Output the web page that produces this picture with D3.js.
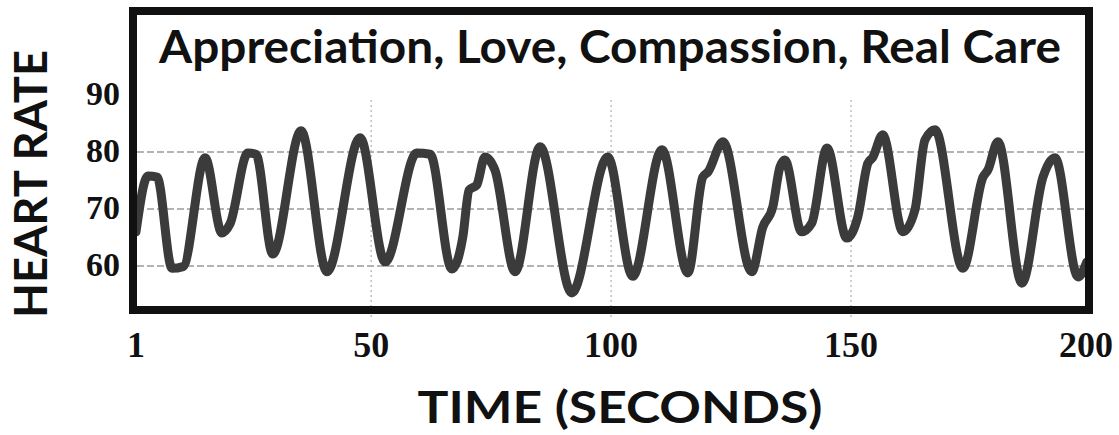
<!DOCTYPE html>
<html>
<head>
<meta charset="utf-8">
<script src="https://cdn.jsdelivr.net/npm/d3@7"></script>
<style>
  html, body { margin: 0; padding: 0; background: #fff; }
  svg { display: block; }
</style>
</head>
<body>
<svg id="chart" width="1119" height="435"></svg>
<script>
// key points of the trace (seconds, beats per minute)
const seconds = [1, 3.5, 5.4, 8.5, 10.8, 15.4, 18.9, 20.6, 24.3, 26, 29.5, 35.4, 40.8, 47.7,
  52.9, 59.5, 62.3, 66.8, 69.1, 70.4, 72, 73.7, 75.8, 80, 85.2, 91.8, 99.3, 104.5, 110.6,
  116, 119.1, 120.2, 123.3, 129.3, 131.6, 133.7, 135.2, 136.2, 139.7, 141.8, 145, 149.1,
  151.4, 153.5, 154.5, 156.6, 160.8, 163.3, 165.4, 167.5, 173.3, 177.5, 178.5, 180.6,
  185.6, 190, 192.5, 197.3, 199.1]
const heartRate = [66, 75.8, 75.6, 59.6, 59.9, 79, 65.8, 67.4, 79.8, 79.6, 62.1, 83.7, 59, 82.5,
  60.7, 79.8, 79.6, 59.5, 65.1, 73.3, 74.2, 79.1, 76.8, 59, 80.9, 55.3, 79.1, 58.2, 80.4,
  58.8, 75.6, 76.5, 81.8, 59, 66.8, 70.4, 77.4, 78.6, 66, 67.5, 80.7, 64.9,
  68.6, 78, 79, 83, 66, 69.8, 82.1, 83.9, 59.6, 75.6, 76.8, 81.8,
  57, 75.6, 79, 58.1, 60.7]
const xTicks = [1, 50, 100, 150, 200]
const xGrid = [50, 100, 150]
const yTicks = [60, 70, 80, 90]
const yGrid = [60, 70, 80]
const title = 'Appreciation, Love, Compassion, Real Care'
const xLabel = 'TIME (SECONDS)'
const yLabel = 'HEART RATE'

const svg = d3.select('#chart')
const plot = { left: 137, right: 1085, top: 15, bottom: 306 }

const xScale = d3.scaleLinear().domain([1, 200]).range([136, 1091])
const yScale = d3.scaleLinear().domain([53, 104]).range([plot.bottom, plot.top])

const data = seconds.map((t, i) => ({ t: t, v: heartRate[i] }))

svg.append('defs')
  .append('clipPath')
  .attr('id', 'clip')
  .append('rect')
  .attr('x', plot.left)
  .attr('y', plot.top)
  .attr('width', plot.right - plot.left)
  .attr('height', plot.bottom - plot.top)

// grid
const grid = svg.append('g').attr('class', 'grid')
grid.selectAll('.hgrid')
  .data(yGrid)
  .enter().append('line')
  .attr('class', 'hgrid')
  .attr('x1', plot.left)
  .attr('x2', plot.right)
  .attr('y1', d => yScale(d))
  .attr('y2', d => yScale(d))
  .attr('stroke', '#9a9a9a')
  .attr('stroke-width', 1.5)
  .attr('stroke-dasharray', '7 3')
grid.selectAll('.vgrid')
  .data(xGrid)
  .enter().append('line')
  .attr('class', 'vgrid')
  .attr('x1', d => xScale(d))
  .attr('x2', d => xScale(d))
  .attr('y1', plot.top + 85)
  .attr('y2', plot.bottom + 12)
  .attr('stroke', '#b0b0b0')
  .attr('stroke-width', 1.2)
  .attr('stroke-dasharray', '2 3')

// trace
const line = d3.line()
  .x(d => xScale(d.t))
  .y(d => yScale(d.v))
  .curve(d3.curveMonotoneX)

svg.append('path')
  .datum(data)
  .attr('clip-path', 'url(#clip)')
  .attr('d', line)
  .attr('fill', 'none')
  .attr('stroke', '#3b3b3b')
  .attr('stroke-width', 9)
  .attr('stroke-linejoin', 'round')
  .attr('stroke-linecap', 'round')

// frame
svg.append('rect')
  .attr('x', 133)
  .attr('y', 11)
  .attr('width', 956)
  .attr('height', 299)
  .attr('fill', 'none')
  .attr('stroke', '#111')
  .attr('stroke-width', 8)

// title inside frame
svg.append('text')
  .attr('x', 610)
  .attr('y', 63)
  .attr('text-anchor', 'middle')
  .attr('textLength', 902)
  .attr('lengthAdjust', 'spacingAndGlyphs')
  .style('font-family', 'Lato, "Open Sans", sans-serif')
  .style('font-weight', 700)
  .style('font-size', '46px')
  .style('fill', '#111')
  .text(title)

// y tick labels
svg.append('g')
  .selectAll('text')
  .data(yTicks)
  .enter().append('text')
  .attr('x', 120)
  .attr('y', d => yScale(d) - 2)
  .attr('dy', '0.35em')
  .attr('text-anchor', 'end')
  .style('font-family', '"Liberation Serif", "Times New Roman", serif')
  .style('font-weight', 700)
  .style('font-size', '34px')
  .style('fill', '#111')
  .text(d => d)

// x tick labels
svg.append('g')
  .selectAll('text')
  .data(xTicks)
  .enter().append('text')
  .attr('x', d => xScale(d) - (d === 200 ? 5 : 0))
  .attr('y', 357)
  .attr('text-anchor', 'middle')
  .style('font-family', '"Liberation Serif", "Times New Roman", serif')
  .style('font-weight', 700)
  .style('font-size', '36px')
  .style('fill', '#111')
  .text(d => d)

// axis titles
svg.append('text')
  .attr('x', 620)
  .attr('y', 423)
  .attr('text-anchor', 'middle')
  .attr('textLength', 405)
  .attr('lengthAdjust', 'spacingAndGlyphs')
  .style('font-family', 'Lato, "Open Sans", sans-serif')
  .style('font-weight', 700)
  .style('font-size', '44px')
  .style('fill', '#111')
  .text(xLabel)

svg.append('text')
  .attr('transform', 'translate(47,184) rotate(-90)')
  .attr('text-anchor', 'middle')
  .attr('textLength', 268)
  .attr('lengthAdjust', 'spacingAndGlyphs')
  .style('font-family', 'Lato, "Open Sans", sans-serif')
  .style('font-weight', 700)
  .style('font-size', '45px')
  .style('fill', '#111')
  .text(yLabel)
</script>
</body>
</html>
